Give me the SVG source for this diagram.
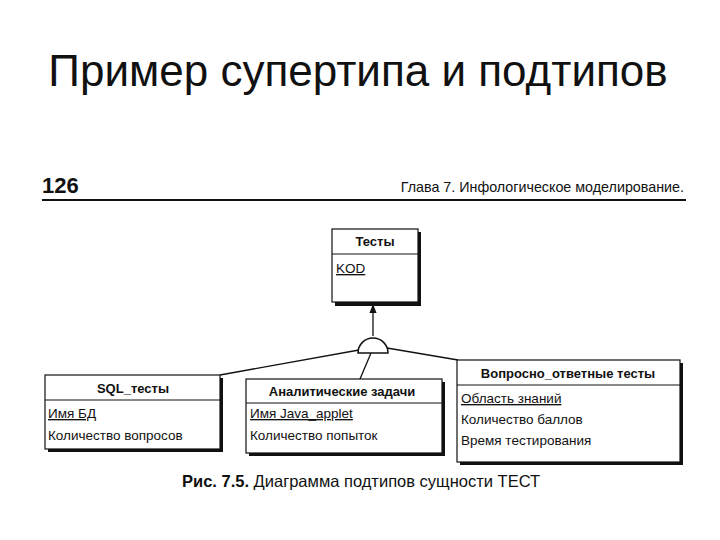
<svg xmlns="http://www.w3.org/2000/svg" width="720" height="540" viewBox="0 0 720 540">
<defs>
<style>
text{font-family:"Liberation Sans",Arial,sans-serif;fill:#111}
.box{fill:#fff;stroke:#111;stroke-width:1.2}
.sh{fill:#111}
.div{stroke:#111;stroke-width:1}
.hd{font-size:13px;font-weight:bold;text-anchor:middle}
.at{font-size:13.5px}
.u{text-decoration:underline}
.ln{stroke:#111;stroke-width:1.3;fill:none}
</style>
<marker id="ah" viewBox="0 0 10 10" refX="9" refY="5" markerWidth="7" markerHeight="9" orient="auto">
<path d="M0,1 L10,5 L0,9 z" fill="#111"/>
</marker>
</defs>
<rect width="720" height="540" fill="#fff"/>
<text x="358" y="86" font-size="44" text-anchor="middle">Пример супертипа и подтипов</text>
<text x="42" y="193" font-size="22" font-weight="bold">126</text>
<text x="684" y="192" font-size="14.3" text-anchor="end">Глава 7. Инфологическое моделирование.</text>
<line x1="42" y1="200" x2="686" y2="200" stroke="#111" stroke-width="2"/>

<g id="connectors">
<line class="ln" x1="373" y1="336" x2="373" y2="305" marker-end="url(#ah)"/>
<path d="M358,353 A15,15 0 0 1 388,353 Z" fill="#fff" stroke="#111" stroke-width="1.5"/>
<line class="ln" x1="359" y1="350" x2="220" y2="375"/>
<line class="ln" x1="371" y1="353" x2="360" y2="379"/>
<line class="ln" x1="387" y1="348" x2="458" y2="360"/>
</g>

<g id="tests">
<rect class="sh" x="335" y="232" width="86" height="74"/>
<rect class="box" x="332" y="229" width="86" height="73"/>
<line class="div" x1="332" y1="254" x2="418" y2="254"/>
<text class="hd" x="375" y="246" font-weight="normal">Тесты</text>
<text class="at u" x="336" y="273">KOD</text>
</g>

<g id="sql">
<rect class="sh" x="48" y="378" width="175" height="74"/>
<rect class="box" x="45" y="375" width="175" height="74"/>
<line class="div" x1="45" y1="400" x2="220" y2="400"/>
<text class="hd" x="133" y="393">SQL_тесты</text>
<text class="at u" x="48" y="418">Имя БД</text>
<text class="at" x="48" y="440">Количество вопросов</text>
</g>

<g id="analytic">
<rect class="sh" x="249" y="382" width="196" height="74"/>
<rect class="box" x="246" y="379" width="196" height="74"/>
<line class="div" x1="246" y1="403" x2="442" y2="403"/>
<text class="hd" x="342" y="396">Аналитические  задачи</text>
<text class="at u" x="250" y="418">Имя Java_applet</text>
<text class="at" x="250" y="440">Количество попыток</text>
</g>

<g id="qa">
<rect class="sh" x="460" y="363" width="223" height="102"/>
<rect class="box" x="457" y="360" width="223" height="102"/>
<line class="div" x1="457" y1="385" x2="680" y2="385"/>
<text class="hd" x="568" y="378">Вопросно_ответные  тесты</text>
<text class="at u" x="461" y="403">Область знаний</text>
<text class="at" x="461" y="424">Количество баллов</text>
<text class="at" x="461" y="445">Время тестирования</text>
</g>

<text x="182" y="487" font-size="16.5"><tspan font-weight="bold">Рис. 7.5.</tspan> Диаграмма подтипов сущности ТЕСТ</text>
</svg>
